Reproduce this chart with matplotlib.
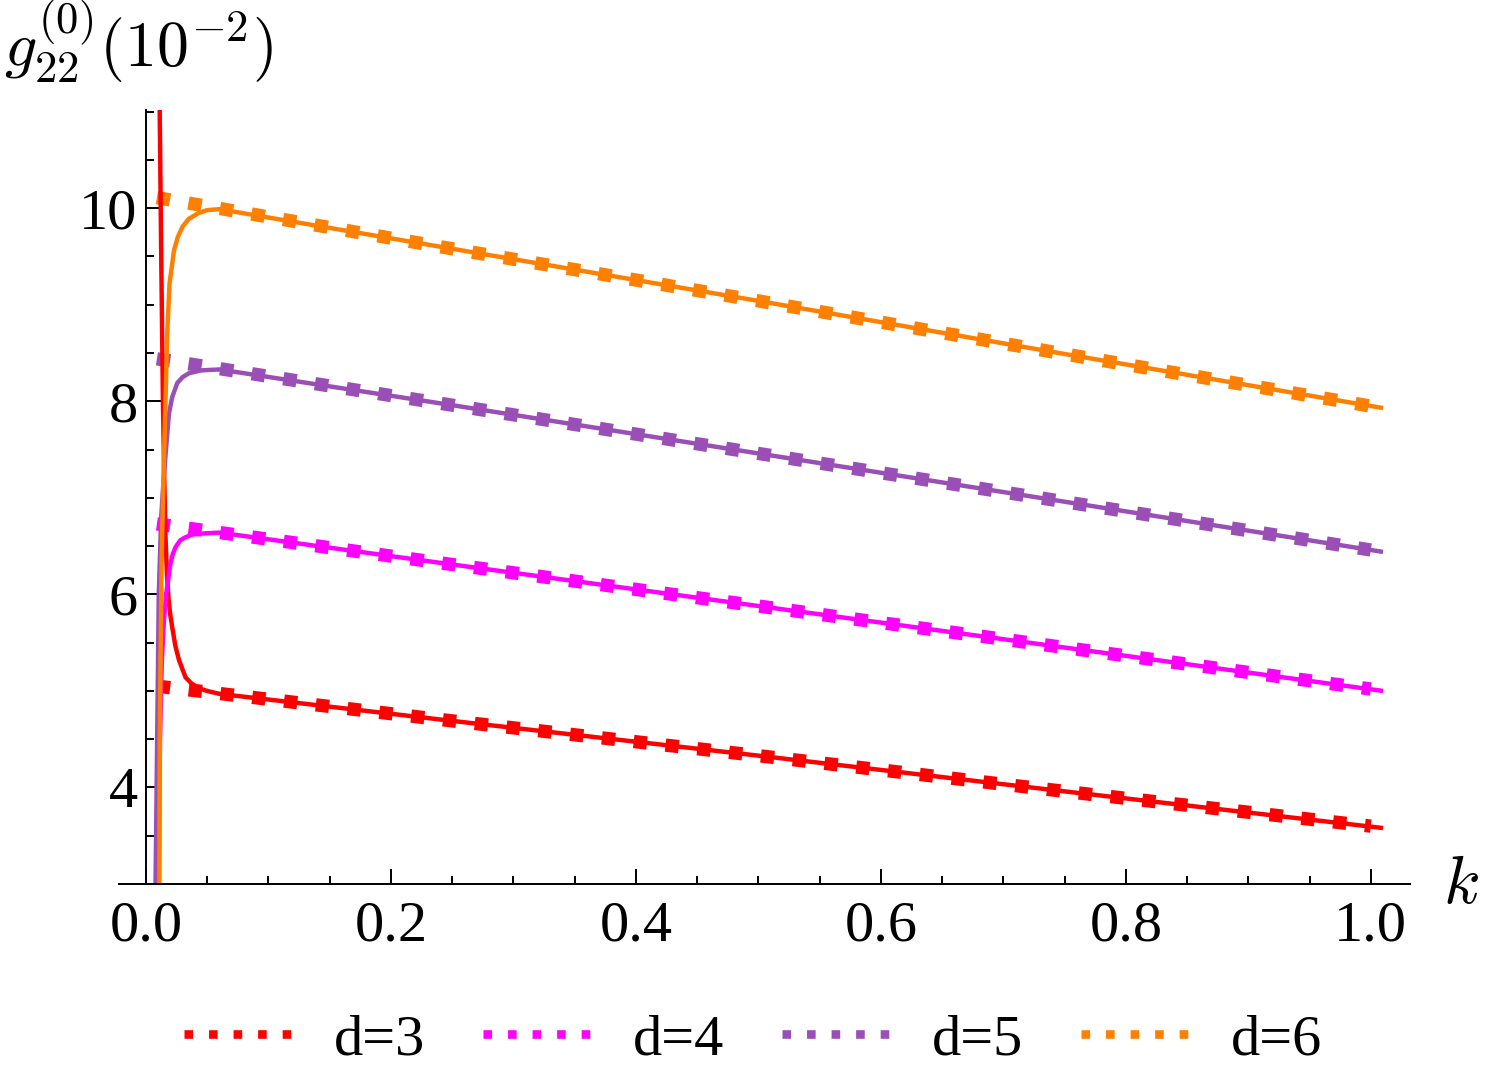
import numpy as np
import matplotlib.pyplot as plt
from matplotlib.lines import Line2D
from matplotlib.ticker import MultipleLocator, FormatStrFormatter

plt.rcParams['font.family'] = ['Liberation Serif', 'DejaVu Serif']
plt.rcParams['mathtext.fontset'] = 'cm'

# DATA (g in units of 1e-2)
labels = ['d=3', 'd=4', 'd=5', 'd=6']
colors = ['#ff0000', '#ff00ff', '#9a4fb6', '#ff8000']

# dotted (square) curves
k_dot = [0.009, 0.25, 0.5, 0.75, 1.0]
g_dot_d3 = [5.05, 4.69, 4.33, 3.96, 3.60]
g_dot_d4 = [6.73, 6.31, 5.88, 5.45, 5.02]
g_dot_d5 = [8.44, 7.96, 7.46, 6.96, 6.46]
g_dot_d6 = [10.11, 9.58, 9.04, 8.49, 7.95]

# solid curves
k_d3 = [0.0112, 0.0125, 0.0139, 0.015, 0.016, 0.0172, 0.0185, 0.020, 0.0215, 0.024,
        0.027, 0.0324, 0.037, 0.043, 0.05, 0.06, 0.25, 0.5, 0.75, 1.01]
g_d3 = [11.1, 9.5, 8.0, 7.2, 6.6, 6.2, 5.95, 5.78, 5.66, 5.47,
        5.32, 5.14, 5.08, 5.03, 5.0, 4.97, 4.69, 4.33, 3.96, 3.58]

k_d4 = [0.0103, 0.0115, 0.013, 0.0148, 0.0166, 0.0182, 0.020, 0.022, 0.0242, 0.028,
        0.032, 0.038, 0.045, 0.06, 0.25, 0.5, 0.75, 1.01]
g_d4 = [2.8, 4.5, 5.3, 5.75, 6.01, 6.15, 6.32, 6.42, 6.49, 6.56,
        6.59, 6.62, 6.63, 6.64, 6.31, 5.88, 5.45, 5.0]

k_d5 = [0.0077, 0.0092, 0.0105, 0.0125, 0.0145, 0.0166, 0.0188, 0.0214, 0.0256, 0.030,
        0.035, 0.045, 0.06, 0.25, 0.5, 0.75, 1.01]
g_d5 = [2.8, 4.5, 6.0, 6.8, 7.2, 7.53, 7.87, 8.04, 8.19, 8.25,
        8.29, 8.32, 8.33, 7.96, 7.46, 6.96, 6.44]

k_d6 = [0.0110, 0.0113, 0.0128, 0.0145, 0.016, 0.0174, 0.0193, 0.0229, 0.026, 0.030,
        0.035, 0.043, 0.05, 0.06, 0.25, 0.5, 0.75, 1.01]
g_d6 = [2.8, 4.5, 6.35, 7.3, 8.0, 8.7, 9.22, 9.56, 9.70, 9.81,
        9.89, 9.95, 9.98, 9.99, 9.58, 9.04, 8.49, 7.93]

dot_series = [g_dot_d3, g_dot_d4, g_dot_d5, g_dot_d6]
solid_series = [(k_d3, g_d3), (k_d4, g_d4), (k_d5, g_d5), (k_d6, g_d6)]

fig = plt.figure(figsize=(15, 10.89), dpi=100)
ax = fig.add_axes([0.0793, 0.1882, 0.8607, 0.7107])

# dotted lines underneath
for g, c in zip(dot_series, colors):
    ax.plot(k_dot, g, color=c, lw=9.6, dashes=(1.0, 1.4), dash_capstyle='butt')

# solid lines on top
for (k, g), c in zip(solid_series, colors):
    ax.plot(k, g, color=c, lw=3.2, solid_capstyle='butt', solid_joinstyle='round')

ax.set_xlim(-0.022, 1.032)
ax.set_ylim(3, 11.016)

ax.spines['top'].set_visible(False)
ax.spines['right'].set_visible(False)
ax.spines['left'].set_position(('data', 0))
ax.spines['left'].set_linewidth(1.4)
ax.spines['bottom'].set_linewidth(1.4)

ax.xaxis.set_major_locator(MultipleLocator(0.2))
ax.xaxis.set_minor_locator(MultipleLocator(0.05))
ax.yaxis.set_major_locator(MultipleLocator(2))
ax.yaxis.set_minor_locator(MultipleLocator(0.5))
ax.xaxis.set_major_formatter(FormatStrFormatter('%.1f'))
ax.yaxis.set_major_formatter(FormatStrFormatter('%d'))

ax.tick_params(which='both', direction='in', width=1.4, labelsize=42)
ax.tick_params(which='major', length=11)
ax.tick_params(which='minor', length=6)
ax.tick_params(axis='x', which='major', pad=12)
ax.tick_params(axis='y', which='major', pad=6)

# axis labels, Mathematica style
fig.text(0.003, 1 - 67 / 1089, r'$g_{22}^{(0)}(10^{-2})$', fontsize=46,
         ha='left', va='baseline')
fig.text(1443 / 1500, 1 - 903 / 1089, r'$k$', fontsize=48, ha='left', va='baseline')

handles = [Line2D([], [], color=c, lw=6.2, dashes=(1.0, 1.85), dash_capstyle='butt')
           for c in colors]
fig.legend(handles, labels, loc='center', bbox_to_anchor=(0.502, 0.045), ncol=4,
           frameon=False, fontsize=42, handlelength=1.84, handletextpad=0.72,
           columnspacing=1.0)

fig.savefig('out.png', dpi=100)
